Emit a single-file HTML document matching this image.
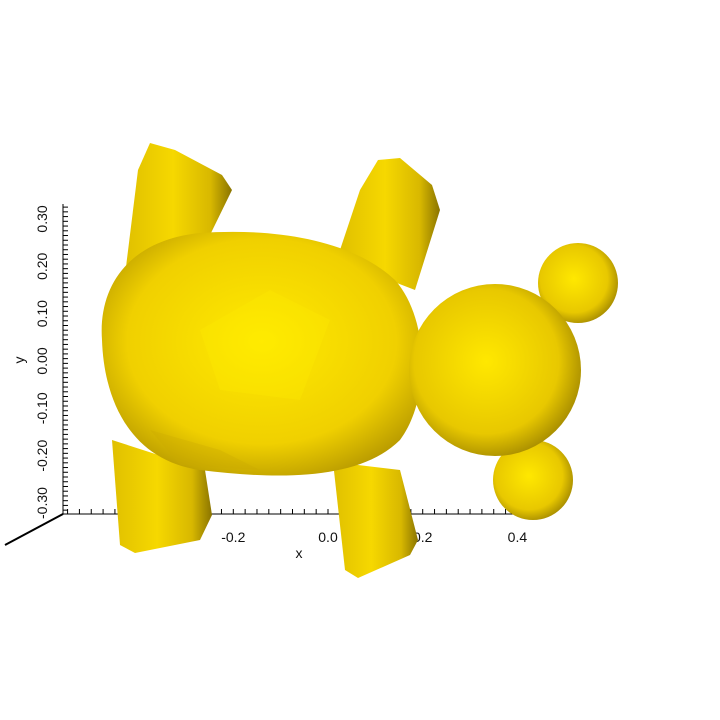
<!DOCTYPE html>
<html><head><meta charset="utf-8"><style>
body{margin:0;background:#fff;width:720px;height:720px;overflow:hidden}
svg{display:block;font-family:"Liberation Sans",sans-serif}
</style></head><body>
<svg width="720" height="720">
<defs>
<radialGradient id="gb" cx="0.5" cy="0.45" r="0.6"><stop offset="0" stop-color="#ffea00"/><stop offset="0.7" stop-color="#f0d000"/><stop offset="1" stop-color="#b89a00"/></radialGradient>
<radialGradient id="gh" cx="0.45" cy="0.45" r="0.6"><stop offset="0" stop-color="#ffe800"/><stop offset="0.7" stop-color="#e8c800"/><stop offset="1" stop-color="#9e8400"/></radialGradient>
<linearGradient id="gl" x1="0" x2="1"><stop offset="0" stop-color="#e0c000"/><stop offset="0.45" stop-color="#f6d800"/><stop offset="0.8" stop-color="#d8b800"/><stop offset="1" stop-color="#8a7400"/></linearGradient>
</defs>
<g id="axes"></g>
<g>
<polygon fill="url(#gl)" points="112,440 120,545 135,553 200,540 212,515 205,470"/>
<polygon fill="url(#gl)" points="333,462 345,570 358,578 410,555 418,540 400,470"/>
<polygon fill="url(#gl)" points="125,275 138,170 150,143 175,150 222,175 232,190 210,235 140,290"/>
<polygon fill="url(#gl)" points="340,250 360,190 378,160 400,158 432,185 440,210 415,290 350,265"/>
<circle cx="578" cy="283" r="40" fill="url(#gh)"/>
<circle cx="533" cy="480" r="40" fill="url(#gh)"/>
<path fill="url(#gb)" d="M102,340 C98,285 130,240 200,233 C270,228 350,238 395,280 C430,320 430,400 400,440 C360,480 280,480 200,470 C130,460 104,400 102,340Z"/>
<circle cx="495" cy="370" r="86" fill="url(#gh)"/>
<polygon fill="#fff000" opacity="0.25" points="200,330 270,290 330,320 300,400 220,390"/>
<polygon fill="#c9aa00" opacity="0.3" points="150,430 220,450 260,470 180,465"/>
</g>
<g font-size="14" fill="#111">
<text x="299" y="558" text-anchor="middle">x</text>
<text transform="translate(24,360) rotate(-90)" text-anchor="middle">y</text>
</g>
<script>
const xTicks=[-0.2,0.0,0.2,0.4];
const yTicks=[-0.3,-0.2,-0.1,0.0,0.1,0.2,0.3];
const sx=v=>328+v*473.5, sy=v=>361-v*473.5;
const g=document.getElementById('axes');
const ns='http://www.w3.org/2000/svg';
function el(t,a){const e=document.createElementNS(ns,t);for(const k in a)e.setAttribute(k,a[k]);g.appendChild(e);return e;}
let l=el('line',{x1:63,y1:514,x2:540,y2:514,stroke:'#000'});


l=el('line',{x1:63,y1:204,x2:63,y2:514,stroke:'#000'});


for(let v=-0.55;v<=0.45;v+=0.025){const x=sx(v);if(x<63||x>540)continue;el('line',{x1:x,y1:514,x2:x,y2:509,stroke:'#000'});}
for(let v=-0.325;v<=0.33;v+=0.01){const y=sy(v);if(y<204||y>514)continue;el('line',{x1:63,y1:y,x2:68,y2:y,stroke:'#000'});}
el('line',{x1:63,y1:514,x2:5,y2:545,stroke:'#000','stroke-width':2});
xTicks.forEach(v=>{const t=el('text',{x:sx(v),y:542,'text-anchor':'middle','font-size':14,fill:'#111'});t.textContent=v.toFixed(1);

});
yTicks.forEach(v=>{const t=el('text',{transform:`translate(47,${sy(v)}) rotate(-90)`,'text-anchor':'middle','font-size':14,fill:'#111'});t.textContent=v.toFixed(2);

});
</script>
</svg>
</body></html>
